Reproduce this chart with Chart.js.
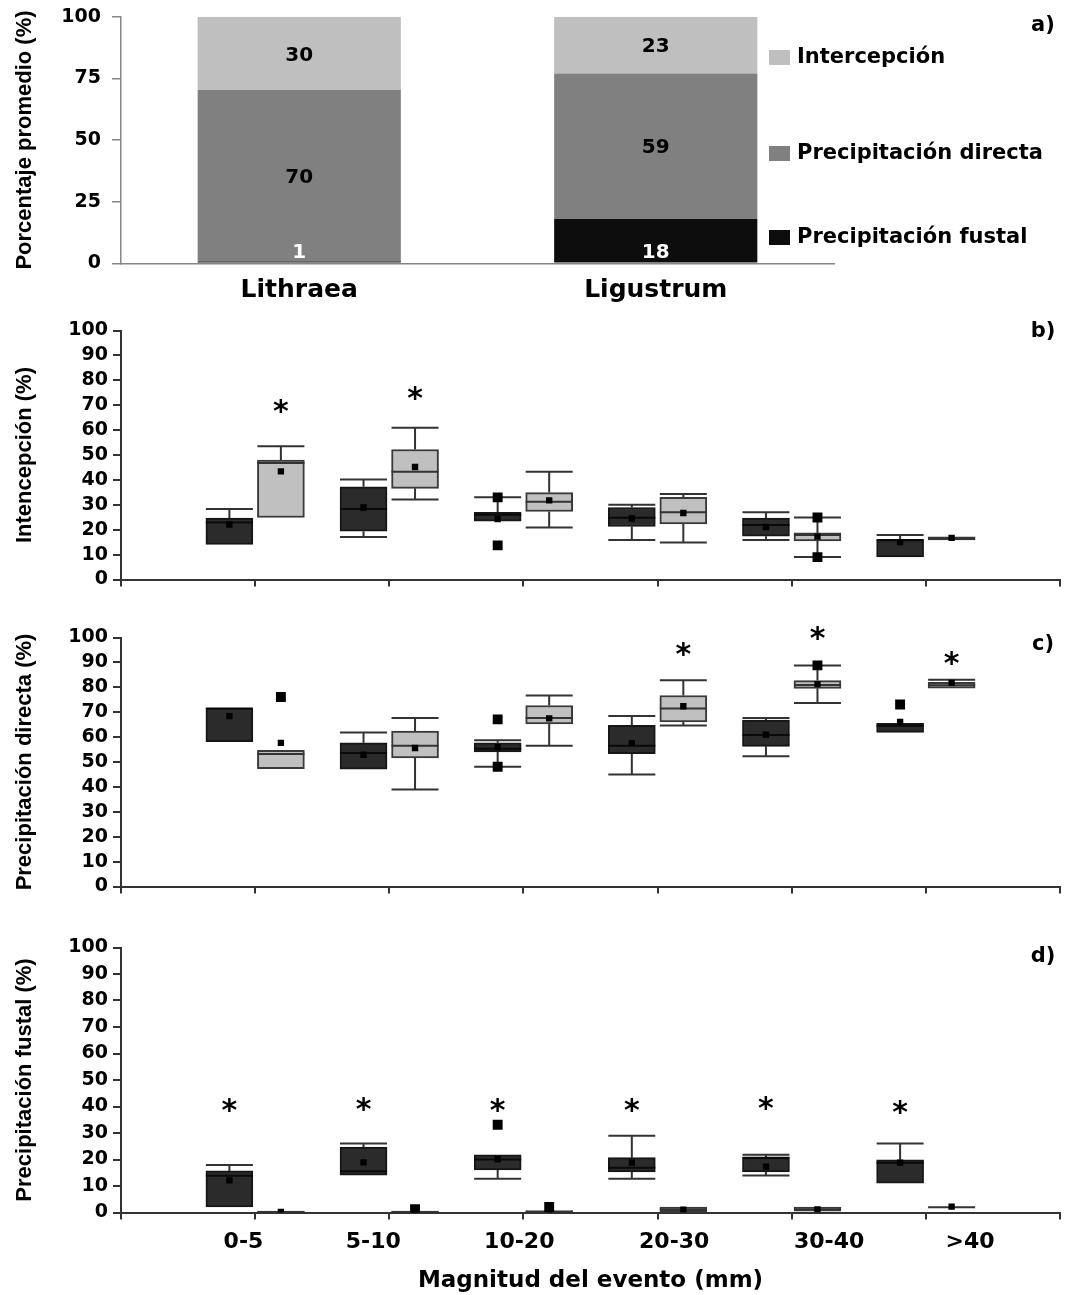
<!DOCTYPE html>
<html>
<head>
<meta charset="utf-8">
<script src="https://cdn.jsdelivr.net/npm/chart.js@4.4.1/dist/chart.umd.min.js"></script>
<style>
  body { margin: 0; background: #fff; }
  #wrap { position: relative; width: 1091px; height: 1295px; }
  canvas { position: absolute; left: 0; }
</style>
</head>
<body>
<div id="wrap">
  <canvas id="cA" width="1091" height="310" style="top:0px"></canvas>
  <canvas id="cB" width="1091" height="300" style="top:305px"></canvas>
  <canvas id="cC" width="1091" height="300" style="top:612px"></canvas>
  <canvas id="cD" width="1091" height="373" style="top:922px"></canvas>
</div>
<script>
// ---- panel a: mean partition of rainfall (%) ----
const species = ['Lithraea', 'Ligustrum']
const fustal = [0.7, 18.0]
const directa = [69.6, 59.0]
const intercep = [29.7, 23.0]

// ---- panels b-d: event size classes ----
const ranges = ['0-5', '5-10', '10-20', '20-30', '30-40', '>40']

// boxes as [min, q1, median, q3, max]
const intLit = [[14.1, 14.1, 22.9, 24.7, 28.3], [17.1, 19.4, 28.3, 37.2, 40.2], [23.4, 23.4, 26.0, 27.0, 33.0],
  [15.9, 21.3, 24.8, 28.9, 30.0], [15.9, 17.4, 21.9, 24.7, 27.0], [9.1, 9.1, 15.9, 15.9, 17.9]]
const intLig = [[24.9, 24.9, 46.8, 48.0, 53.5], [32.1, 36.6, 43.3, 52.2, 60.9], [20.9, 27.3, 31.2, 34.9, 43.3],
  [14.9, 22.3, 27.0, 33.0, 34.3], [9.0, 15.5, 17.9, 18.7, 24.9], [15.9, 15.9, 16.5, 17.1, 17.1]]
const intLitMean = [22.1, 28.9, 24.3, 24.5, 21.1, 15.0]
const intLigMean = [43.4, 45.2, 31.8, 26.7, 17.2, 16.7]
const intLitOut = [[], [], [33.0, 13.7], [], [], []]
const intLigOut = [[], [], [], [], [24.9, 9.0], []]
const intStarLig = [69.3, 74.7, null, null, null, null]

const dirLit = [[58.2, 58.2, 71.5, 71.5, 71.5], [47.1, 47.1, 53.6, 57.7, 61.8], [48.1, 54.0, 55.3, 57.7, 58.7],
  [45.0, 53.3, 56.5, 64.7, 68.5], [52.3, 56.3, 60.8, 66.8, 67.7], [61.9, 61.9, 64.6, 65.5, 65.5]]
const dirLig = [[47.3, 47.3, 53.2, 54.7, 54.7], [39.0, 51.6, 56.5, 62.4, 67.7], [56.5, 65.3, 67.7, 72.7, 76.7],
  [64.7, 66.1, 71.5, 76.7, 82.8], [73.7, 79.6, 80.9, 82.7, 88.8], [79.7, 79.7, 80.8, 82.0, 83.0]]
const dirLitMean = [68.4, 52.9, 56.0, 57.6, 61.0, 66.1]
const dirLigMean = [57.7, 55.6, 67.5, 72.4, 81.3, 81.8]
const dirLitOut = [[], [], [67.1, 48.1], [], [], [73.1]]
const dirLigOut = [[76.1], [], [], [], [88.8], []]
const dirStarLig = [null, null, null, 95.0, 101.6, 91.6]

const fusLit = [[2.1, 2.1, 13.9, 15.7, 17.9], [14.1, 14.1, 15.6, 24.7, 26.0], [12.7, 16.1, 20.0, 21.8, 21.8],
  [12.7, 15.3, 16.9, 20.7, 29.0], [14.0, 15.3, 20.7, 20.7, 21.8], [11.1, 11.1, 18.8, 19.9, 26.0]]
const fusLig = [[0, 0, 0.2, 0.5, 0.5], [0, 0, 0.2, 0.5, 0.5], [0, 0, 0.3, 0.7, 0.7],
  [0.3, 0.3, 1.1, 2.0, 2.0], [0.5, 0.5, 1.2, 2.0, 2.0], [2.0, 2.0, 2.0, 2.0, 2.0]]
const fusLitMean = [12.1, 18.9, 20.1, 18.8, 17.3, 18.8]
const fusLigMean = [0.2, 0.4, 0.4, 1.1, 1.2, 2.2]
const fusLitOut = [[], [], [33.1], [], [], []]
const fusLigOut = [[], [1.2], [2.1], [], [], []]
const fusStarLit = [40.5, 40.9, 40.5, 40.2, 41.1, 39.8]

// ---- layout / style ----
const BOX_W = 47
const DX = 0.192
const labelPos = [0.913, 1.881, 2.969, 4.124, 5.279, 6.33]
const DARK = '#2b2b2b', DARK_EDGE = '#161616'
const LIGHT = '#c0c0c0', LIGHT_EDGE = '#3a3a3a'
const AXIS = '#333'
const tickFont = { family: 'DejaVu Sans', size: 19, weight: 'bold' }
const titleFont = { family: 'Liberation Sans', size: 22, weight: 'bold', lineHeight: 1.2 }
const boldFont = (size) => `bold ${size}px "DejaVu Sans"`

const fixW = (w) => (s) => { s.width = w; s.paddingTop = 0; s.paddingBottom = 0 }
const fixH = (h) => (s) => { s.height = h; s.paddingLeft = 0; s.paddingRight = 0 }

const tagPlugin = (text, y) => ({
  id: 'tag',
  afterDraw(chart) {
    const ctx = chart.ctx
    ctx.save()
    ctx.font = boldFont(21)
    ctx.fillStyle = '#000'
    ctx.textAlign = 'center'
    ctx.textBaseline = 'middle'
    ctx.fillText(text, 1043, y)
    ctx.restore()
  }
})

// whisker lines and caps, drawn under the boxes
const whiskerPlugin = (sets) => ({
  id: 'whiskers',
  beforeDatasetsDraw(chart) {
    const { ctx, scales: { x, y } } = chart
    ctx.save()
    ctx.strokeStyle = AXIS
    ctx.lineWidth = 2
    sets.forEach(set => {
      set.stats.forEach((s, i) => {
        const px = x.getPixelForValue(i + 1 + set.dx)
        const h = BOX_W / 2
        const [mn, q1, , q3, mx] = s
        ctx.beginPath()
        if (mx > q3) {
          ctx.moveTo(px, y.getPixelForValue(q3))
          ctx.lineTo(px, y.getPixelForValue(mx))
          ctx.moveTo(px - h, y.getPixelForValue(mx))
          ctx.lineTo(px + h, y.getPixelForValue(mx))
        }
        if (mn < q1) {
          ctx.moveTo(px, y.getPixelForValue(q1))
          ctx.lineTo(px, y.getPixelForValue(mn))
          ctx.moveTo(px - h, y.getPixelForValue(mn))
          ctx.lineTo(px + h, y.getPixelForValue(mn))
        }
        ctx.stroke()
      })
    })
    ctx.restore()
  }
})

// significance asterisks
const starPlugin = (vals, dx) => ({
  id: 'stars',
  afterDraw(chart) {
    const { ctx, scales: { x, y } } = chart
    ctx.save()
    ctx.font = boldFont(30)
    ctx.fillStyle = '#000'
    ctx.textAlign = 'center'
    ctx.textBaseline = 'alphabetic'
    const m = ctx.measureText('*')
    const off = (m.actualBoundingBoxAscent - m.actualBoundingBoxDescent) / 2
    vals.forEach((v, i) => {
      if (v == null) return
      ctx.fillText('*', x.getPixelForValue(i + 1 + dx), y.getPixelForValue(v) + off)
    })
    ctx.restore()
  }
})

function boxDatasets(stats, means, outs, dx, fill, edge) {
  const xs = stats.map((s, i) => i + 1 + dx)
  return [
    { type: 'line', showLine: false, order: 1, data: means.map((m, i) => ({ x: xs[i], y: m })),
      pointStyle: 'rect', pointRadius: 4.5, pointBackgroundColor: '#000', pointBorderWidth: 0 },
    { type: 'line', showLine: false, order: 1, data: outs.flatMap((o, i) => o.map(v => ({ x: xs[i], y: v }))),
      pointStyle: 'rect', pointRadius: 7, pointBackgroundColor: '#000', pointBorderWidth: 0 },
    { type: 'line', showLine: false, order: 2, data: stats.map((s, i) => ({ x: xs[i], y: s[2] })),
      pointStyle: 'line', pointRadius: BOX_W / 2, pointBorderColor: edge === DARK_EDGE ? '#0a0a0a' : '#333', pointBorderWidth: 2 },
    { type: 'bar', order: 3, data: stats.map((s, i) => ({ x: xs[i], y: [s[1], s[3]] })),
      backgroundColor: fill, borderColor: edge, borderWidth: 2, borderSkipped: false,
      barThickness: BOX_W, grouped: false }
  ]
}

function boxPanel(id, p) {
  const scales = {
    x: {
      type: 'linear', min: 0, max: 7, offset: false, weight: 0,
      ticks: { display: false, stepSize: 1, autoSkip: false },
      grid: { offset: false, drawOnChartArea: false, drawTicks: true, tickLength: 7, color: AXIS, lineWidth: 2 },
      border: { color: AXIS, width: 2 },
      afterFit: fixH(p.xh)
    },
    y: {
      min: 0, max: 100,
      ticks: { stepSize: 10, autoSkip: false, font: tickFont, color: '#000', padding: 5 },
      grid: { drawOnChartArea: false, tickLength: 8, color: AXIS, lineWidth: 2 },
      border: { color: AXIS, width: 2 },
      title: { display: true, text: p.title, font: titleFont, color: '#000', padding: { top: 12, bottom: 0 } },
      afterFit: fixW(121)
    }
  }
  if (p.xl) {
    scales.xl = {
      type: 'linear', position: 'bottom', min: 0, max: 7, offset: false, weight: 1,
      afterBuildTicks: (s) => { s.ticks = labelPos.map(v => ({ value: v })) },
      ticks: { autoSkip: false, maxRotation: 0, padding: 1, color: '#000',
        font: { family: 'DejaVu Sans', size: 22, weight: 'bold' },
        callback: (v, i) => ranges[i] },
      grid: { display: false },
      border: { display: false },
      title: { display: true, text: 'Magnitud del evento (mm)', color: '#000',
        font: { family: 'DejaVu Sans', size: 23, weight: 'bold', lineHeight: 1.2 },
        padding: { top: 0, bottom: 0 } },
      afterFit: fixH(p.xl)
    }
  }
  new Chart(document.getElementById(id), {
    type: 'bar',
    data: {
      datasets: [
        ...boxDatasets(p.lit, p.litMean, p.litOut, -DX, DARK, DARK_EDGE),
        ...boxDatasets(p.lig, p.ligMean, p.ligOut, DX, LIGHT, LIGHT_EDGE)
      ]
    },
    options: {
      responsive: false, animation: false, devicePixelRatio: 1,
      layout: { padding: { top: p.top, right: 31, bottom: 0, left: 0 } },
      plugins: { legend: { display: false }, tooltip: { enabled: false } },
      scales
    },
    plugins: [
      whiskerPlugin([{ stats: p.lit, dx: -DX }, { stats: p.lig, dx: DX }]),
      starPlugin(p.stars, p.starDx),
      tagPlugin(p.tag, p.tagY)
    ]
  })
}

// ---- panel a ----
const segLabels = {
  id: 'segLabels',
  afterDatasetsDraw(chart) {
    const ctx = chart.ctx
    ctx.save()
    ctx.font = boldFont(20)
    ctx.textAlign = 'center'
    ctx.textBaseline = 'middle'
    chart.data.datasets.forEach((ds, di) => {
      chart.getDatasetMeta(di).data.forEach((el, i) => {
        const txt = String(Math.round(ds.data[i]))
        if (di === 0) {
          ctx.fillStyle = '#fff'
          ctx.fillText(txt, el.x, el.base - 10)
        } else {
          ctx.fillStyle = '#000'
          ctx.fillText(txt, el.x, (el.y + el.base) / 2 + 2)
        }
      })
    })
    ctx.restore()
  }
}

const legendA = {
  id: 'legendA',
  afterDraw(chart) {
    const ctx = chart.ctx
    const items = [[2, 58], [1, 154], [0, 238]]
    ctx.save()
    ctx.font = boldFont(21)
    ctx.textBaseline = 'middle'
    ctx.textAlign = 'left'
    items.forEach(([di, y]) => {
      const ds = chart.data.datasets[di]
      ctx.fillStyle = ds.backgroundColor
      ctx.fillRect(769, y - 8, 21, 15)
      ctx.fillStyle = '#000'
      ctx.fillText(ds.label, 797, y)
    })
    ctx.restore()
  }
}

new Chart(document.getElementById('cA'), {
  type: 'bar',
  data: {
    labels: species,
    datasets: [
      { label: 'Precipitación fustal', data: fustal, backgroundColor: '#0d0d0d' },
      { label: 'Precipitación directa', data: directa, backgroundColor: '#808080' },
      { label: 'Intercepción', data: intercep, backgroundColor: '#bfbfbf' }
    ]
  },
  options: {
    responsive: false, animation: false, devicePixelRatio: 1,
    datasets: { bar: { barPercentage: 0.57, categoryPercentage: 1 } },
    layout: { padding: { top: 16.7, right: 257, bottom: 0, left: 0 } },
    plugins: { legend: { display: false }, tooltip: { enabled: false } },
    scales: {
      x: {
        stacked: true,
        grid: { display: false },
        border: { color: '#868686', width: 1.5 },
        ticks: { font: { family: 'DejaVu Sans', size: 25, weight: 'bold' }, color: '#000', padding: 4 },
        afterFit: fixH(46.7)
      },
      y: {
        stacked: true, min: 0, max: 100,
        ticks: { stepSize: 25, autoSkip: false, font: tickFont, color: '#000', padding: 11 },
        grid: { drawOnChartArea: false, tickLength: 9, color: '#868686', lineWidth: 1.5 },
        border: { color: '#868686', width: 1.5 },
        title: { display: true, text: 'Porcentaje promedio (%)', font: titleFont, color: '#000', padding: { top: 12, bottom: 0 } },
        afterFit: fixW(121)
      }
    }
  },
  plugins: [segLabels, legendA, tagPlugin('a)', 26)]
})

boxPanel('cB', { title: 'Intencepción (%)', top: 12, xh: 11, tag: 'b)', tagY: 27,
  lit: intLit, lig: intLig, litMean: intLitMean, ligMean: intLigMean, litOut: intLitOut, ligOut: intLigOut,
  stars: intStarLig, starDx: DX })

boxPanel('cC', { title: 'Precipitación directa (%)', top: 14, xh: 8.5, tag: 'c)', tagY: 33,
  lit: dirLit, lig: dirLig, litMean: dirLitMean, ligMean: dirLigMean, litOut: dirLitOut, ligOut: dirLigOut,
  stars: dirStarLig, starDx: DX })

boxPanel('cD', { title: 'Precipitación fustal (%)', top: 13, xh: 8, xl: 74.5, tag: 'd)', tagY: 35,
  lit: fusLit, lig: fusLig, litMean: fusLitMean, ligMean: fusLigMean, litOut: fusLitOut, ligOut: fusLigOut,
  stars: fusStarLit, starDx: -DX })
</script>
</body>
</html>
